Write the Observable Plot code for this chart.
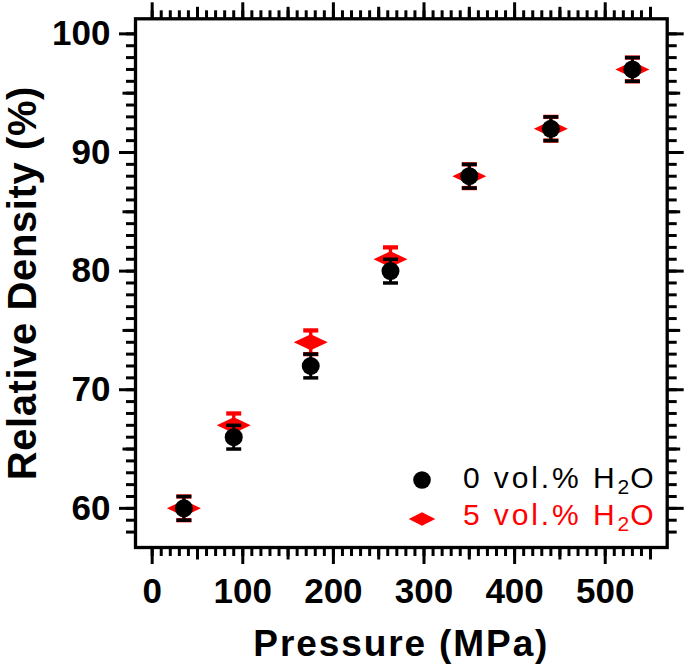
<!DOCTYPE html>
<html>
<head>
<meta charset="utf-8">
<script src="https://cdn.jsdelivr.net/npm/d3@7"></script>
<script src="https://cdn.jsdelivr.net/npm/@observablehq/plot@0.6"></script>
<style>
  html, body { margin: 0; padding: 0; background: #fff; }
  #wrap { position: relative; width: 685px; height: 669px; font-family: 'Liberation Sans', Arial, Helvetica, sans-serif; }
  .leg { position: absolute; font-size: 30px; line-height: 30px; letter-spacing: 2.9px; white-space: nowrap; }
  .leg sub { font-size: 21px; vertical-align: -6px; line-height: 0; letter-spacing: 1px; }
  .mk { position: absolute; }
  .xtitle text { letter-spacing: 1.9px; }
  .ytitle text { letter-spacing: 0.6px; }
</style>
</head>
<body>
<div id="wrap"></div>
<script>
// ---- data ----
const pressure = [35, 90, 175, 263, 350, 440, 530];
const density0 = [60, 66, 72, 80, 88, 92, 97];
const err0 = [1, 1, 1, 1, 1, 1, 1];
const density5 = [60, 67, 74, 81, 88, 92, 97];
const err5 = [1, 1, 1, 1, 1, 1, 1];
const seriesNames = ["0 vol.% H", "5 vol.% H"];
const xMajor = [0, 100, 200, 300, 400, 500];
const yMajor = [60, 70, 80, 90, 100];

const s0 = pressure.map((p, i) => ({p, d: density0[i], e: err0[i]}));
const s5 = pressure.map((p, i) => ({p, d: density5[i], e: err5[i]}));

const xMinor = d3.range(0, 551, 10);
const xMid = d3.range(50, 551, 100);
const yMinor = d3.range(58, 101, 1);
const yMid = [65, 75, 85, 95];

const font = "'Liberation Sans', Arial, Helvetica, sans-serif";
const capSymbol = {draw(ctx, size) { const r = Math.sqrt(size / Math.PI); ctx.moveTo(-r, 0); ctx.lineTo(r, 0); }};
const diamond = {draw(ctx, size) { const r = Math.sqrt(size / Math.PI); ctx.moveTo(-r, 0); ctx.lineTo(0, -r * 0.47); ctx.lineTo(r, 0); ctx.lineTo(0, r * 0.47); ctx.closePath(); }};
const blank = () => "";

const axesX = ["bottom", "top"].flatMap(anchor => [
  Plot.axisX(xMinor, {anchor, tickSize: 9, strokeWidth: 3, tickFormat: blank, label: null}),
  Plot.axisX(xMid, {anchor, tickSize: 12.5, strokeWidth: 3, tickFormat: blank, label: null}),
  Plot.axisX(xMajor, {anchor, tickSize: 17, strokeWidth: 3, label: null,
    tickFormat: anchor === "bottom" ? d3.format("d") : blank,
    fontSize: 35, fontWeight: "bold", tickPadding: 14, fill: "black"})
]);
const axesY = ["left", "right"].flatMap(anchor => [
  Plot.axisY(yMinor, {anchor, tickSize: 9, strokeWidth: 3, tickFormat: blank, label: null}),
  Plot.axisY(yMid, {anchor, tickSize: 12.5, strokeWidth: 3, tickFormat: blank, label: null}),
  Plot.axisY(yMajor, {anchor, tickSize: 16, strokeWidth: 3, label: null,
    tickFormat: anchor === "left" ? d3.format("d") : blank,
    fontSize: 35, fontWeight: "bold", tickPadding: 9, fill: "black"})
]);

const chart = Plot.plot({
  width: 685,
  height: 669,
  marginLeft: 135,
  marginRight: 18.3,
  marginTop: 18.3,
  marginBottom: 122,
  style: {fontFamily: font, color: "black", background: "white"},
  x: {domain: [-18.4, 568.4]},
  y: {domain: [56.7, 101.27]},
  marks: [
    Plot.frame({stroke: "black", strokeWidth: 3.3}),
    ...axesX,
    ...axesY,
    Plot.text(["Pressure (MPa)"], {text: d => d, frameAnchor: "bottom", dy: 96.5, lineAnchor: "middle", textAnchor: "middle",
      fontSize: 37, fontWeight: "bold", fill: "black", className: "xtitle"}),
    Plot.text(["Relative Density (%)"], {text: d => d, frameAnchor: "left", dx: -112.5, rotate: -90, lineAnchor: "middle", textAnchor: "middle",
      fontSize: 40, fontWeight: "bold", fill: "black", className: "ytitle"}),
    // 5 vol.% series (red)
    Plot.ruleX(s5, {x: "p", y1: d => d.d - d.e, y2: d => d.d + d.e, stroke: "red", strokeWidth: 3.3}),
    Plot.dot(s5, {x: "p", y: d => d.d - d.e, symbol: capSymbol, r: 7.5, stroke: "red", fill: "none", strokeWidth: 4.3}),
    Plot.dot(s5, {x: "p", y: d => d.d + d.e, symbol: capSymbol, r: 7.5, stroke: "red", fill: "none", strokeWidth: 4.3}),
    Plot.dot(s5, {x: "p", y: "d", symbol: diamond, r: 17, fill: "red", stroke: "none"}),
    // 0 vol.% series (black)
    Plot.ruleX(s0, {x: "p", y1: d => d.d - d.e, y2: d => d.d + d.e, stroke: "black", strokeWidth: 3}),
    Plot.dot(s0, {x: "p", y: d => d.d - d.e, symbol: capSymbol, r: 7.5, stroke: "black", fill: "none", strokeWidth: 3.5}),
    Plot.dot(s0, {x: "p", y: d => d.d + d.e, symbol: capSymbol, r: 7.5, stroke: "black", fill: "none", strokeWidth: 3.5}),
    Plot.dot(s0, {x: "p", y: "d", r: 9, fill: "black", stroke: "none"})
  ]
});

const wrap = document.getElementById("wrap");
wrap.appendChild(chart);

// legend (inside the frame, bottom right)
const legendRows = [
  {name: seriesNames[0], color: "black", base: 490, marker: '<svg class="mk" width="24" height="24" style="left:409.7px;top:468px"><circle cx="12" cy="12" r="8.8" fill="black"/></svg>'},
  {name: seriesNames[1], color: "red", base: 526.7, marker: '<svg class="mk" width="30" height="20" style="left:406.7px;top:509px"><polygon points="1.7,10 15,3.3 28.3,10 15,16.7" fill="red"/></svg>'}
];
legendRows.forEach(r => {
  wrap.insertAdjacentHTML("beforeend", r.marker);
  const d = document.createElement("div");
  d.className = "leg";
  d.style.left = "463px";
  d.style.top = (r.base - 27) + "px";
  d.style.color = r.color;
  d.innerHTML = r.name + "<sub>2</sub>O";
  wrap.appendChild(d);
});
</script>
</body>
</html>
